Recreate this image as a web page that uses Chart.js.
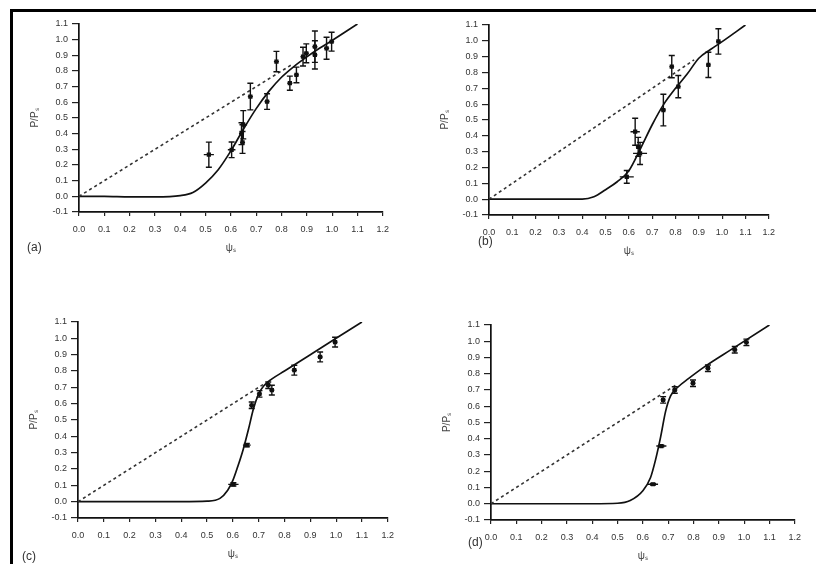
<!DOCTYPE html>
<html><head><meta charset="utf-8">
<script src="https://cdn.jsdelivr.net/npm/chart.js@4.4.0/dist/chart.umd.min.js"></script>
<style>
html,body{margin:0;padding:0;background:#fff;width:816px;height:564px;overflow:hidden;position:relative;font-family:"Liberation Sans",Arial,sans-serif;}
#frame{position:absolute;left:10px;top:9px;width:900px;height:700px;border-top:3px solid #000;border-left:3px solid #000;}
canvas{position:absolute;}
.lab{position:absolute;font-size:12px;color:#333;}
</style></head><body>
<div id="frame"></div>
<canvas id="ca"></canvas><canvas id="cb"></canvas><canvas id="cc"></canvas><canvas id="cd"></canvas>
<div class="lab" style="left:27px;top:240px;">(a)</div>
<div class="lab" style="left:478px;top:234px;">(b)</div>
<div class="lab" style="left:22px;top:549px;">(c)</div>
<div class="lab" style="left:468px;top:535px;">(d)</div>
<script>
// ---- shared tick labels ----
const xTicks = [0.0,0.1,0.2,0.3,0.4,0.5,0.6,0.7,0.8,0.9,1.0,1.1,1.2];
const yTicks = [-0.1,0.0,0.1,0.2,0.3,0.4,0.5,0.6,0.7,0.8,0.9,1.0,1.1];
const xTitle = "ψₛ";
const yTitle = "P/Pₛ";

// ---- panel (a) ----
const aX  = [0.513,0.603,0.642,0.649,0.646,0.677,0.743,0.780,0.833,0.859,0.885,0.898,0.932,0.932,0.978,0.998];
const aY  = [0.266,0.297,0.400,0.457,0.344,0.637,0.605,0.860,0.722,0.775,0.892,0.913,0.903,0.955,0.945,0.987];
const aEy = [0.080,0.050,0.070,0.090,0.070,0.085,0.050,0.065,0.045,0.050,0.060,0.060,0.090,0.100,0.070,0.060];
const aEx = [0.020,0.015,0.010,0.015,0.010,0.010,0.010,0.010,0.010,0.010,0.010,0.010,0.010,0.010,0.010,0.010];
const aCurveX = [0,0.1,0.2,0.3,0.4,0.45,0.5,0.55,0.6,0.65,0.7,0.75,0.8,0.85,0.9,0.95,1.0,1.1];
const aCurveY = [0,0,-0.003,-0.003,0.005,0.025,0.085,0.17,0.29,0.43,0.56,0.67,0.76,0.83,0.89,0.945,0.995,1.1];
const aDashEnd = 0.84;

// ---- panel (b) ----
const bX  = [0.591,0.648,0.627,0.640,0.748,0.812,0.784,0.941,0.984];
const bY  = [0.141,0.289,0.426,0.330,0.563,0.711,0.837,0.848,0.996];
const bEy = [0.040,0.070,0.085,0.060,0.100,0.070,0.070,0.080,0.080];
const bEx = [0.030,0.030,0.020,0.010,0.010,0.010,0.010,0.010,0.010];
const bCurveX = [0,0.1,0.2,0.3,0.4,0.45,0.5,0.55,0.6,0.65,0.7,0.75,0.8,0.85,0.9,0.95,1.0,1.1];
const bCurveY = [0,0,0,0,0,0.015,0.06,0.11,0.18,0.32,0.47,0.60,0.70,0.79,0.89,0.945,0.995,1.1];
const bDashEnd = 0.88;

// ---- panel (c) ----
const cX  = [0.602,0.654,0.673,0.703,0.751,0.737,0.838,0.938,0.996];
const cY  = [0.106,0.346,0.590,0.660,0.683,0.713,0.805,0.886,0.977];
const cEy = [0.010,0.010,0.020,0.020,0.030,0.020,0.030,0.030,0.030];
const cEx = [0.020,0.015,0.010,0.010,0.010,0.010,0.010,0.010,0.010];
const cCurveX = [0,0.1,0.2,0.3,0.4,0.5,0.55,0.58,0.6,0.62,0.64,0.66,0.68,0.7,0.72,0.75,0.8,0.9,1.0,1.1];
const cCurveY = [0,0,0,0,0,0.003,0.02,0.07,0.13,0.22,0.32,0.44,0.57,0.66,0.71,0.75,0.80,0.90,1.0,1.1];
const cDashEnd = 0.72;

// ---- panel (d) ----
const dX  = [0.640,0.673,0.680,0.726,0.798,0.857,0.963,1.009];
const dY  = [0.120,0.355,0.639,0.700,0.742,0.834,0.948,0.993];
const dEy = [0.005,0.005,0.020,0.020,0.020,0.020,0.020,0.020];
const dEx = [0.020,0.020,0.010,0.010,0.010,0.010,0.010,0.010];
const dCurveX = [0,0.1,0.2,0.3,0.4,0.5,0.55,0.6,0.63,0.65,0.67,0.69,0.71,0.74,0.78,0.85,0.95,1.1];
const dCurveY = [0,0,0,0,0,0.003,0.02,0.08,0.16,0.27,0.41,0.57,0.665,0.72,0.77,0.85,0.95,1.1];
const dDashEnd = 0.73;

const YW = 50, XH = 42, PT = 10, PR = 14;

const errPlugin = {
  id:'errbars',
  afterDatasetsDraw(chart, args, o){
    const xs=chart.scales.x, ys=chart.scales.y, ctx=chart.ctx;
    ctx.save(); ctx.strokeStyle='#111'; ctx.lineWidth=1.4;
    for(let i=0;i<o.px.length;i++){
      const x=xs.getPixelForValue(o.px[i]), y=ys.getPixelForValue(o.py[i]);
      const y1=ys.getPixelForValue(o.py[i]-o.ey[i]), y2=ys.getPixelForValue(o.py[i]+o.ey[i]);
      const x1=xs.getPixelForValue(o.px[i]-o.ex[i]), x2=xs.getPixelForValue(o.px[i]+o.ex[i]);
      ctx.beginPath();
      ctx.moveTo(x,y1);ctx.lineTo(x,y2);
      ctx.moveTo(x-3,y1);ctx.lineTo(x+3,y1);
      ctx.moveTo(x-3,y2);ctx.lineTo(x+3,y2);
      ctx.moveTo(x1,y);ctx.lineTo(x2,y);
      ctx.stroke();
    }
    ctx.restore();
  }
};

function panel(id, box, px, py, ex, ey, cx, cy, dashEnd){
  const cv=document.getElementById(id);
  const w=(box.r-box.l)+YW+PR, h=(box.b-box.t)+PT+XH;
  cv.width=w; cv.height=h;
  cv.style.left=(box.l-YW)+'px'; cv.style.top=(box.t-PT)+'px';
  cv.style.width=w+'px'; cv.style.height=h+'px';
  const tickFont={family:'"Liberation Sans", Arial, sans-serif', size:9};
  new Chart(cv,{
    type:'scatter',
    data:{datasets:[
      {data:[{x:0,y:0},{x:dashEnd,y:dashEnd}], showLine:true, borderColor:'#333', borderWidth:1.6, borderDash:[3,3], pointRadius:0},
      {data:cx.map((v,i)=>({x:v,y:cy[i]})), showLine:true, borderColor:'#111', borderWidth:1.7, pointRadius:0, cubicInterpolationMode:'monotone'},
      {data:px.map((v,i)=>({x:v,y:py[i]})), showLine:false, pointRadius:3, pointStyle:'rect', backgroundColor:'#111', borderColor:'#111', borderWidth:0}
    ]},
    options:{
      responsive:false, animation:false, devicePixelRatio:1,
      layout:{padding:{top:PT,right:PR,left:0,bottom:0}},
      plugins:{legend:{display:false},tooltip:{enabled:false},
        errbars:{px:px,py:py,ex:ex,ey:ey}},
      scales:{
        x:{type:'linear',min:xTicks[0],max:xTicks[xTicks.length-1],
          afterBuildTicks:(s)=>{s.ticks=xTicks.map(v=>({value:v}));},
          afterFit:(s)=>{s.height=XH;},
          ticks:{font:tickFont,color:'#333',padding:8,maxRotation:0,autoSkip:false,callback:(v)=>Number(v).toFixed(1)},
          grid:{drawOnChartArea:false,drawTicks:true,tickLength:4,color:'#222',lineWidth:1.2},
          border:{display:true,color:'#111',width:1.7},
          title:{display:true,text:xTitle,font:{family:'"Liberation Sans", Arial, sans-serif',size:10},color:'#444',padding:{top:3,bottom:0}}
        },
        y:{type:'linear',min:yTicks[0],max:yTicks[yTicks.length-1],
          afterBuildTicks:(s)=>{s.ticks=yTicks.map(v=>({value:v}));},
          afterFit:(s)=>{s.width=YW;},
          ticks:{font:tickFont,color:'#333',padding:4,autoSkip:false,callback:(v)=>Number(v).toFixed(1)},
          grid:{drawOnChartArea:false,drawTicks:true,tickLength:7,color:'#222',lineWidth:1.2},
          border:{display:true,color:'#111',width:1.7},
          title:{display:true,text:yTitle,font:{family:'"Liberation Sans", Arial, sans-serif',size:10},color:'#444',padding:{top:0,bottom:2}}
        }
      }
    },
    plugins:[errPlugin]
  });
}

panel('ca',{l:79,t:24,r:383,b:212},aX,aY,aEx,aEy,aCurveX,aCurveY,aDashEnd);
panel('cb',{l:489,t:25,r:769,b:215},bX,bY,bEx,bEy,bCurveX,bCurveY,bDashEnd);
panel('cc',{l:78,t:322,r:388,b:518},cX,cY,cEx,cEy,cCurveX,cCurveY,cDashEnd);
panel('cd',{l:491,t:325,r:795,b:520},dX,dY,dEx,dEy,dCurveX,dCurveY,dDashEnd);
</script>
</body></html>
